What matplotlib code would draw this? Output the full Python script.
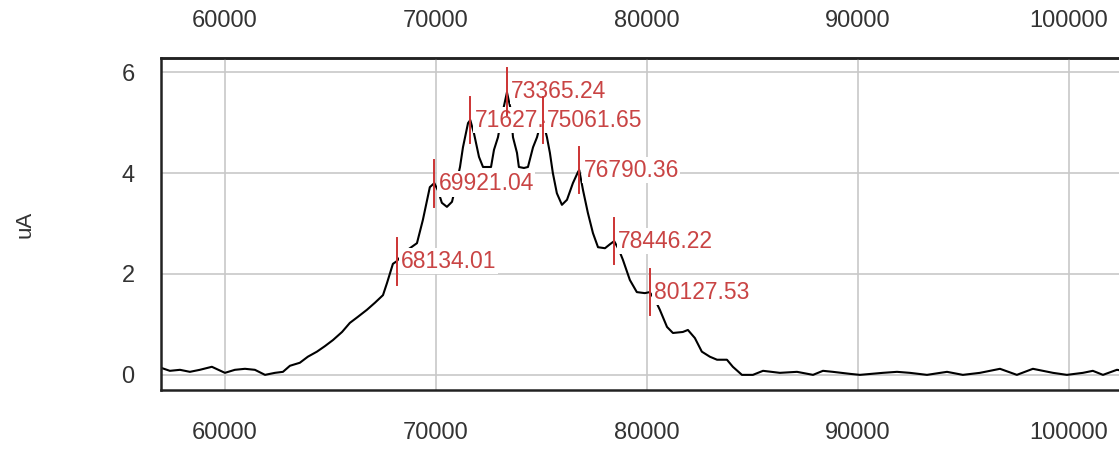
import matplotlib.pyplot as plt

plt.rcParams['font.family'] = ['Liberation Sans', 'DejaVu Sans']

# trace (mass, current)
mass = [56970, 57390, 57870, 58340, 58810, 59380, 60000, 60470, 60950, 61420,
        61900, 62370, 62750, 63080, 63550, 63930, 64360, 64740, 65120, 65550,
        65920, 66300, 66730, 67110, 67490, 67680, 67960, 68134, 68530, 69100,
        69380, 69710, 69921, 70090, 70280, 70520, 70760, 70950, 71140, 71280,
        71520, 71627, 71800, 72040, 72230, 72610, 72750, 72940, 73130, 73365,
        73550, 73650, 73840, 73930, 74170, 74360, 74600, 74790, 74950, 75061,
        75260, 75400, 75540, 75730, 75970, 76210, 76490, 76730, 76790, 76970,
        77200, 77440, 77680, 78010, 78250, 78446, 78670, 78860, 79190, 79520,
        79900, 80127, 80380, 80610, 80950, 81230, 81700, 81940, 82270, 82600,
        82980, 83320, 83790, 84070, 84500, 85020, 85500, 86300, 87110, 87870,
        88340, 88810, 89620, 90090, 91180, 91850, 92460, 93270, 94220, 94970,
        95780, 96730, 97530, 98290, 99240, 99900, 100660, 101130, 101610, 102270,
        102600]
current = [0.14, 0.08, 0.10, 0.06, 0.10, 0.16, 0.04, 0.10, 0.12, 0.10,
           0.00, 0.04, 0.06, 0.18, 0.24, 0.36, 0.46, 0.57, 0.69, 0.85,
           1.03, 1.15, 1.29, 1.43, 1.58, 1.82, 2.20, 2.25, 2.44, 2.61,
           3.07, 3.72, 3.80, 3.66, 3.41, 3.33, 3.43, 3.76, 4.12, 4.51,
           4.99, 5.05, 4.79, 4.32, 4.12, 4.12, 4.46, 4.71, 5.15, 5.60,
           5.25, 4.71, 4.40, 4.12, 4.10, 4.12, 4.51, 4.71, 4.97, 5.05,
           4.71, 4.40, 4.00, 3.60, 3.37, 3.47, 3.80, 4.02, 4.06, 3.66,
           3.21, 2.81, 2.53, 2.51, 2.59, 2.65, 2.48, 2.28, 1.88, 1.64,
           1.62, 1.64, 1.49, 1.29, 0.95, 0.83, 0.85, 0.89, 0.73, 0.46,
           0.36, 0.30, 0.30, 0.16, 0.00, 0.00, 0.08, 0.04, 0.06, 0.00,
           0.08, 0.06, 0.02, 0.00, 0.04, 0.06, 0.04, 0.00, 0.06, 0.00,
           0.04, 0.12, 0.00, 0.12, 0.04, 0.00, 0.04, 0.08, 0.00, 0.10,
           0.08]

# labelled peaks
peak_mass = [68134.01, 69921.04, 71627.40, 73365.24, 75061.65, 76790.36, 78446.22, 80127.53]
peak_current = [2.25, 3.79, 5.05, 5.62, 5.05, 4.06, 2.65, 1.64]

xticks = [60000, 70000, 80000, 90000, 100000]
yticks = [0, 2, 4, 6]

fig = plt.figure(figsize=(11.19, 4.51), dpi=100)
ax = fig.add_axes([161 / 1119, 1 - 390 / 451, 1 - 161 / 1119, 332 / 451])

ax.plot(mass, current, color='black', lw=1.5, zorder=2)

for x, y in zip(peak_mass, peak_current):
    ax.annotate(f"{x:.2f}", (x, y), xytext=(3, 0), textcoords='offset points',
                ha='left', va='center', fontsize=16.5, color='#c94444', zorder=3,
                bbox=dict(facecolor='white', edgecolor='none', pad=1.2))
for x, y in zip(peak_mass, peak_current):
    ax.plot([x, x], [y - 0.46, y + 0.46], color='#cc3333', lw=1.4, zorder=4)

ax.set_xlim(56970, 102370)
ax.set_ylim(-0.30, 6.28)
ax.set_xticks(xticks)
ax.set_yticks(yticks)
ax.grid(True, color='#c8c8c8', lw=1.2, zorder=0)
ax.set_axisbelow(True)

ax.tick_params(axis='x', length=0, pad=23, labelsize=17, labelcolor='#333333')
ax.tick_params(axis='y', length=0, pad=19, labelsize=17, labelcolor='#333333')
ax.set_ylabel("uA", fontsize=16, color='#333333', labelpad=62)

top = ax.secondary_xaxis('top')
top.set_xticks(xticks)
top.tick_params(length=0, pad=19, labelsize=17, labelcolor='#333333')
top.spines['top'].set_color('#222222')
top.spines['top'].set_linewidth(1.8)

for side in ['left', 'top', 'bottom']:
    ax.spines[side].set_color('#222222')
    ax.spines[side].set_linewidth(1.8)
ax.spines['right'].set_visible(False)

plt.savefig("out.png", dpi=100)
